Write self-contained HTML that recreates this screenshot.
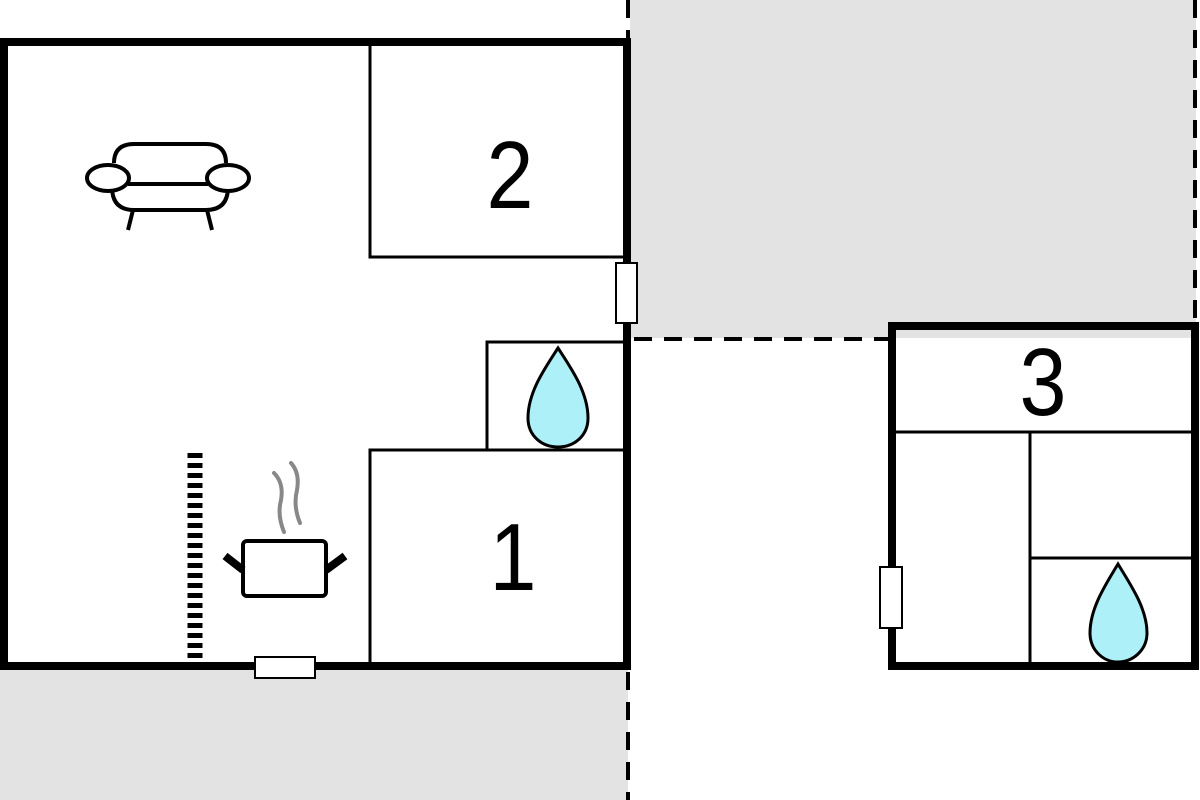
<!DOCTYPE html>
<html><head><style>body{margin:0;background:#fff}svg{display:block}</style></head><body>
<svg width="1200" height="800" viewBox="0 0 1200 800" xmlns="http://www.w3.org/2000/svg">
<rect x="630" y="0" width="566" height="338" fill="#e3e3e3"/>
<rect x="0" y="670" width="628" height="130" fill="#e3e3e3"/>
<g stroke="#000" stroke-width="4" stroke-dasharray="18,12" fill="none">
<line x1="628" y1="0" x2="628" y2="40"/>
<line x1="628" y1="672" x2="628" y2="800"/>
<line x1="1195" y1="0" x2="1195" y2="322"/>
<line x1="634" y1="339" x2="888" y2="339"/>
</g>
<rect x="370" y="44" width="257" height="213" fill="#fff" stroke="#000" stroke-width="3"/>
<rect x="487" y="342" width="140" height="108" fill="#fff" stroke="#000" stroke-width="3"/>
<rect x="370" y="450" width="257" height="215" fill="#fff" stroke="#000" stroke-width="3"/>
<rect x="4" y="42" width="623" height="624" fill="none" stroke="#000" stroke-width="8"/>
<rect x="616" y="263" width="21" height="60" fill="#fff" stroke="#000" stroke-width="2"/>
<rect x="255" y="657" width="60" height="21" fill="#fff" stroke="#000" stroke-width="2"/>
<g stroke="#000" stroke-width="3" fill="none">
<line x1="895" y1="432" x2="1194" y2="432"/>
<line x1="1030" y1="432" x2="1030" y2="665"/>
<line x1="1030" y1="558" x2="1194" y2="558"/>
</g>
<rect x="892" y="326" width="303" height="340" fill="none" stroke="#000" stroke-width="8"/>
<rect x="880" y="567" width="22" height="61" fill="#fff" stroke="#000" stroke-width="2"/>
<path d="M558 348 C545 368 528 392 528 418 C528 436 542 447 558 447 C574 447 588 436 588 418 C588 392 571 368 558 348 Z" fill="#aef0f8" stroke="#000" stroke-width="3"/>
<path d="M1118 564 C1106 584 1090 608 1090 633 C1090 650 1103 662 1118 662 C1133 662 1147 650 1147 633 C1147 608 1130 584 1118 564 Z" fill="#aef0f8" stroke="#000" stroke-width="3"/>
<g font-family="Liberation Sans, sans-serif" font-size="96" text-anchor="middle" fill="#000">
<text x="0" y="0" transform="translate(510,208) scale(0.88,1)">2</text>
<text x="0" y="0" transform="translate(513,590) scale(0.88,1)">1</text>
<text x="0" y="0" transform="translate(1043,415) scale(0.88,1)">3</text>
</g>
<line x1="195" y1="453" x2="195" y2="659" stroke="#000" stroke-width="15" stroke-dasharray="5,5"/>
<g stroke="#000" stroke-width="4" fill="none">
<path d="M114 163 Q114 144 134 144 L206 144 Q226 144 226 163"/>
<path d="M112 187 Q112 210 134 210 L206 210 Q228 210 228 187"/>
<line x1="128" y1="184" x2="208" y2="184"/>
<ellipse cx="108" cy="178" rx="21" ry="13" fill="#fff"/>
<ellipse cx="228" cy="178" rx="21" ry="13" fill="#fff"/>
<line x1="133" y1="210" x2="128" y2="230"/>
<line x1="207" y1="210" x2="212" y2="230"/>
<rect x="243" y="541" width="83" height="55" rx="4" fill="#fff"/>
</g>
<g stroke="#000" stroke-width="8" stroke-linecap="butt">
<line x1="225" y1="556" x2="243" y2="570"/>
<line x1="345" y1="556" x2="326" y2="570"/>
</g>
<g stroke="#888" stroke-width="4" fill="none" stroke-linecap="round">
<path d="M274 473 Q284 483 281 500 Q277 515 284 532"/>
<path d="M291 463 Q300 473 297 490 Q293 506 300 523"/>
</g>
</svg>
</body></html>
